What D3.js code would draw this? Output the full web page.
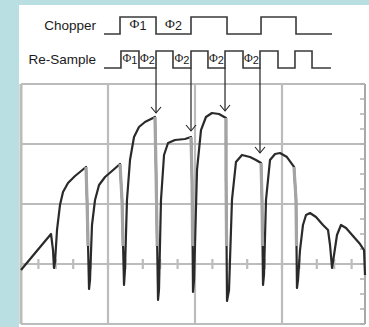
<!DOCTYPE html>
<html><head><meta charset="utf-8">
<script src="https://cdn.jsdelivr.net/npm/d3@7/dist/d3.min.js"></script>
<style>body{margin:0;background:#badfe3}svg{display:block}</style>
</head><body><svg id="c" width="369" height="327"></svg>
<script>
// ---- data (time in divisions, amplitude in divisions) ----
const traceT = [0.000,0.172,0.345,0.368,0.379,0.391,0.414,0.448,0.483,0.540,0.621,0.747,0.759,0.782,0.793,0.816,0.851,0.897,0.966,1.046,1.138,1.161,1.184,1.195,1.218,1.253,1.299,1.356,1.425,1.540,1.552,1.575,1.586,1.609,1.644,1.690,1.770,1.885,1.954,1.966,1.977,1.989,2.023,2.069,2.126,2.195,2.276,2.356,2.357,2.368,2.391,2.425,2.471,2.540,2.632,2.701,2.759,2.770,2.782,2.793,2.816,2.862,2.920,2.977,3.057,3.138,3.161,3.172,3.184,3.207,3.241,3.276,3.322,3.391,3.471,3.529,3.552,3.575,3.598,3.632,3.678,3.736,3.816,3.897,3.943,3.954];
const traceV = [-0.100,0.200,0.500,0.233,-0.067,0.033,0.567,0.983,1.200,1.350,1.467,1.617,1.067,-0.417,-0.267,0.650,1.067,1.317,1.450,1.550,1.667,1.067,-0.350,-0.100,1.067,1.733,2.117,2.283,2.367,2.450,1.567,-0.600,-0.433,1.067,1.817,2.017,2.067,2.083,2.117,1.400,-0.467,-0.267,1.567,2.233,2.450,2.517,2.500,2.433,1.400,-0.617,-0.433,1.067,1.700,1.817,1.783,1.733,1.683,1.067,-0.350,-0.183,1.067,1.733,1.833,1.850,1.783,1.617,1.067,-0.400,-0.267,0.233,0.650,0.817,0.850,0.783,0.650,0.567,0.317,-0.067,0.150,0.483,0.650,0.600,0.467,0.333,0.233,-0.183];

const chopperEdges = [0.954,1.138,1.552,1.954,2.368,2.759,3.161,3.575];
const chopperStart = 0; // starts low
const resampleEdges = [0.954,1.149,1.356,1.552,1.747,1.954,2.149,2.345,2.552,2.747,2.954,3.149,3.345,3.563];
const chopperLabels = [{t0:1.138,t1:1.552,sub:"1"},{t0:1.552,t1:1.954,sub:"2"}];
const resampleLabels = [{t0:1.149,t1:1.356,sub:"1"},{t0:1.356,t1:1.552,sub:"2"},{t0:1.747,t1:1.954,sub:"2"},{t0:2.149,t1:2.345,sub:"2"},{t0:2.552,t1:2.747,sub:"2"}];
const arrowT = [1.552,1.954,2.345,2.747];
const arrowV = [2.517,2.217,2.550,1.850];
const gridXs = [0,1,2,3];
const gridYs = [-1,0,1,2,3];

// ---- scales ----
const x = d3.scaleLinear().domain([0,3.954]).range([21,365]);
const y = d3.scaleLinear().domain([-1,3]).range([324,84]);

const svg = d3.select("#c");
svg.append("rect").attr("x",0).attr("y",0).attr("width",369).attr("height",327).attr("fill","#badfe3");
svg.append("rect").attr("x",19).attr("y",5).attr("width",350).attr("height",322).attr("fill","#ffffff");

// ---- grid ----
const grid = svg.append("g").attr("stroke","#bcbcbc").attr("stroke-width",2.2);
gridYs.forEach(v=>grid.append("line").attr("x1",x(0)).attr("x2",x(3.954)).attr("y1",y(v)).attr("y2",y(v)));
gridXs.forEach(t=>grid.append("line").attr("x1",x(t)).attr("x2",x(t)).attr("y1",y(3)).attr("y2",y(-1)));
grid.append("line").attr("x1",x(0)).attr("x2",x(0)).attr("y1",y(3)).attr("y2",y(-1)).attr("stroke-width",3);
// minor ticks on zero axis
d3.range(0.2,3.95,0.2).forEach(t=>grid.append("line").attr("x1",x(t)).attr("x2",x(t)).attr("y1",y(0)-5).attr("y2",y(0)+5));
// right border with ticks
svg.append("line").attr("x1",x(3.954)).attr("x2",x(3.954)).attr("y1",y(3)).attr("y2",y(-1)).attr("stroke","#a8a8a8").attr("stroke-width",2);
d3.range(-1,3.01,0.25).forEach(v=>svg.append("line").attr("x1",x(3.954)-5).attr("x2",x(3.954)).attr("y1",y(v)).attr("y2",y(v)).attr("stroke","#b0b0b0").attr("stroke-width",1.5));

// ---- trace ----
const pts = traceT.map((t,i)=>[x(t),y(traceV[i])]);
svg.append("path").attr("d",d3.line()(pts)).attr("fill","none").attr("stroke","#2a2a2a").attr("stroke-width",2.2).attr("stroke-linejoin","round");
// faint fast-falling edges
const greyCut = 0.3;
for(let i=0;i<traceT.length-1;i++){
  const t0=traceT[i],t1=traceT[i+1],v0=traceV[i],v1=traceV[i+1];
  if(t1-t0<0.03 && v1<v0-0.5 && v0>greyCut){
    const vEnd=Math.max(v1,greyCut);
    const tEnd=t0+(t1-t0)*(v0-vEnd)/(v0-v1);
    svg.append("line").attr("x1",x(t0)).attr("y1",y(v0)).attr("x2",x(tEnd)).attr("y2",y(vEnd))
      .attr("stroke","#a4a4a4").attr("stroke-width",3.2);
  }
}

// ---- timing diagrams ----
function stepPath(edges, lo, hi){
  const p=[]; let level=lo;
  p.push([x(edges[0]),level]);
  for(let i=1;i<edges.length;i++){
    p.push([x(edges[i]),level]);
    if(i<edges.length-1){ level = level===lo?hi:lo; p.push([x(edges[i]),level]); }
  }
  return d3.line()(p);
}
const tcol="#3a3a3a";
svg.append("path").attr("d",stepPath(chopperEdges,34,17)).attr("fill","none").attr("stroke",tcol).attr("stroke-width",1.6);
svg.append("path").attr("d",stepPath(resampleEdges,68,51)).attr("fill","none").attr("stroke",tcol).attr("stroke-width",1.6);

svg.append("text").attr("x",96).attr("y",30).attr("text-anchor","end").attr("font-family","Liberation Sans, Arial, sans-serif").attr("font-size",13.5).attr("fill","#1a1a1a").text("Chopper");
svg.append("text").attr("x",96).attr("y",64).attr("text-anchor","end").attr("font-family","Liberation Sans, Arial, sans-serif").attr("font-size",13.5).attr("fill","#1a1a1a").text("Re-Sample");

function phiLabel(d, base, size){
  const tx = svg.append("text").attr("x",x((d.t0+d.t1)/2)).attr("y",base).attr("text-anchor","middle").attr("fill","#1a1a1a");
  tx.append("tspan").attr("font-family","Liberation Serif, Times New Roman, serif").attr("font-size",size).text("\u03A6");
  tx.append("tspan").attr("font-family","Liberation Sans, Arial, sans-serif").attr("font-size",size-1).attr("dy",2).text(d.sub);
}
chopperLabels.forEach(d=>phiLabel(d,28,13.5));
resampleLabels.forEach(d=>phiLabel(d,62,12));

// ---- arrows ----
arrowT.forEach((t,i)=>{
  const ax=x(t), ay=y(arrowV[i]);
  svg.append("line").attr("x1",ax).attr("x2",ax).attr("y1",68).attr("y2",ay).attr("stroke","#222").attr("stroke-width",1.2);
  svg.append("path").attr("d",`M${ax-5},${ay-6}L${ax},${ay}L${ax+5},${ay-6}`).attr("fill","none").attr("stroke","#222").attr("stroke-width",1.1);
});
</script></body></html>
